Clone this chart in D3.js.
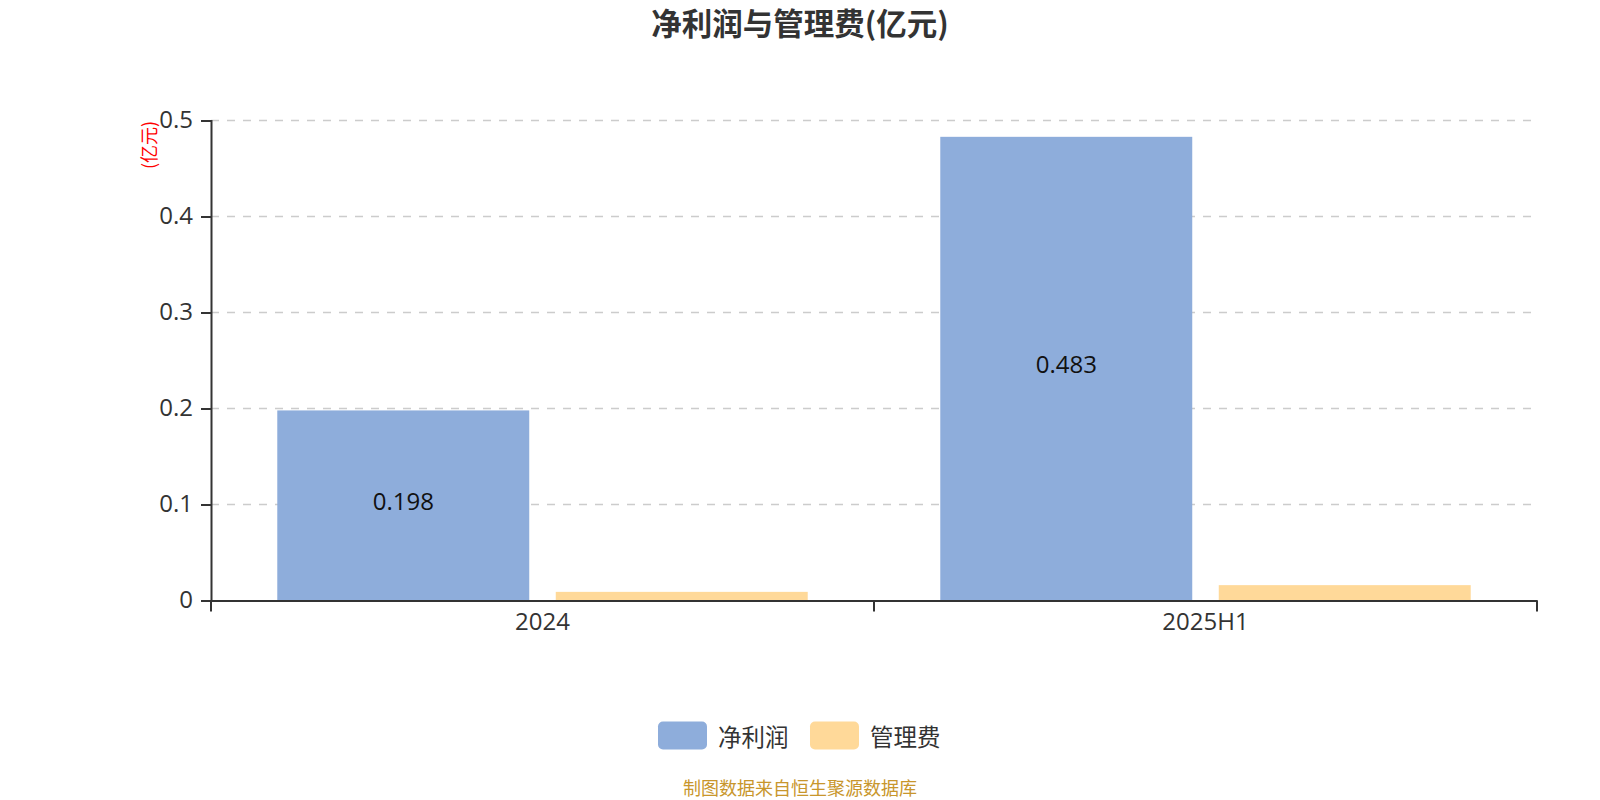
<!DOCTYPE html>
<html>
<head>
<meta charset="utf-8">
<script src="https://cdn.jsdelivr.net/npm/d3@7/dist/d3.min.js"></script>
<style>
  html, body { margin: 0; padding: 0; background: #fff; }
  svg { display: block; }
  text { font-family: "Microsoft YaHei", "Noto Sans CJK SC", "Noto Sans", sans-serif; }
  .num { font-family: "Open Sans", "Noto Sans CJK SC", sans-serif; }
</style>
</head>
<body>
<svg id="chart" width="1600" height="800"></svg>
<script>
const categories = ["2024", "2025H1"];
const seriesNames = ["净利润", "管理费"];
const netProfit = [0.198, 0.483];
const adminExpense = [0.009, 0.016];
const yTicks = [0, 0.1, 0.2, 0.3, 0.4, 0.5];
const colors = ["#8eaddb", "#ffd999"];
const titleText = "净利润与管理费(亿元)";
const yAxisName = "(亿元)";
const footerText = "制图数据来自恒生聚源数据库";

(function () {
const series = [netProfit, adminExpense];
const svg = d3.select("#chart");

const pLeft = 211, pRight = 1537, pTop = 120.5, pBottom = 600.5;

const x = d3.scaleBand().domain(categories).range([pLeft, pRight]).paddingInner(0).paddingOuter(0);
const xSub = d3.scaleBand().domain(seriesNames).range([0, x.bandwidth()])
  .paddingInner(0.0952).paddingOuter(0.238);
const y = d3.scaleLinear().domain([0, 0.5]).range([pBottom, pTop]);

// grid lines
svg.append("g").selectAll("line").data(yTicks.filter(d => d > 0)).join("line")
  .attr("x1", pLeft).attr("x2", pRight)
  .attr("y1", d => y(d)).attr("y2", d => y(d))
  .attr("stroke", "#cccccc").attr("stroke-width", 1.5)
  .attr("stroke-dasharray", "8,8");

// bars
const groups = svg.append("g").selectAll("g").data(categories).join("g")
  .attr("transform", d => `translate(${x(d)},0)`);
seriesNames.forEach((name, si) => {
  groups.append("rect")
    .attr("x", xSub(name))
    .attr("width", xSub.bandwidth())
    .attr("y", (d, i) => y(series[si][i]))
    .attr("height", (d, i) => pBottom - y(series[si][i]))
    .attr("fill", colors[si]);
});

// labels on net profit bars
groups.append("text").attr("class", "num")
  .attr("x", xSub(seriesNames[0]) + xSub.bandwidth() / 2)
  .attr("y", (d, i) => (y(netProfit[i]) + pBottom) / 2 - 5)
  .attr("text-anchor", "middle").attr("dominant-baseline", "central")
  .attr("font-size", 24).attr("fill", "#111")
  .text((d, i) => netProfit[i].toFixed(3));

// y axis
const yAxis = d3.axisLeft(y).tickValues(yTicks).tickSize(10).tickPadding(8)
  .tickFormat(d => d === 0 ? "0" : d3.format(".1f")(d));
const yg = svg.append("g").attr("transform", `translate(${pLeft},0)`).call(yAxis);
yg.select(".domain").attr("stroke", "#333").attr("stroke-width", 2);
yg.selectAll(".tick line").attr("stroke", "#333").attr("stroke-width", 2);
yg.selectAll(".tick text").attr("class", "num").attr("font-size", 24).attr("fill", "#333")
  .attr("dy", "0.28em");

// x axis
const xAxis = d3.axisBottom(x).tickSize(0).tickPadding(12);
const xg = svg.append("g").attr("transform", `translate(0,${pBottom})`).call(xAxis);
xg.select(".domain").attr("stroke", "#333").attr("stroke-width", 2);
xg.selectAll(".tick text").attr("class", "num").attr("font-size", 24).attr("fill", "#333");
// category boundary ticks
const boundaries = [pLeft].concat(categories.map(c => x(c) + x.bandwidth()));
svg.append("g").selectAll("line").data(boundaries).join("line")
  .attr("x1", d => d).attr("x2", d => d)
  .attr("y1", pBottom).attr("y2", pBottom + 11)
  .attr("stroke", "#333").attr("stroke-width", 2);

// y axis name
svg.append("text")
  .attr("transform", "translate(148,145) rotate(-90)")
  .attr("text-anchor", "middle").attr("dominant-baseline", "central")
  .attr("font-size", 18).attr("fill", "#ff0000")
  .text(yAxisName);

// title
svg.append("text")
  .attr("x", 800).attr("y", 22)
  .attr("text-anchor", "middle").attr("dominant-baseline", "central")
  .attr("font-size", 30.5).attr("font-weight", "bold").attr("fill", "#333")
  .text(titleText);

// legend
const legendX = [658, 810];
seriesNames.forEach((name, i) => {
  svg.append("rect")
    .attr("x", legendX[i]).attr("y", 721.5)
    .attr("width", 49).attr("height", 28).attr("rx", 5)
    .attr("fill", colors[i]);
  svg.append("text")
    .attr("x", legendX[i] + 60).attr("y", 735.5)
    .attr("dominant-baseline", "central")
    .attr("font-size", 23.5).attr("fill", "#333")
    .text(name);
});

// footer
svg.append("text")
  .attr("x", 800).attr("y", 787)
  .attr("text-anchor", "middle").attr("dominant-baseline", "central")
  .attr("font-size", 18).attr("fill", "#c8962c")
  .text(footerText);
})();
</script>
</body>
</html>
